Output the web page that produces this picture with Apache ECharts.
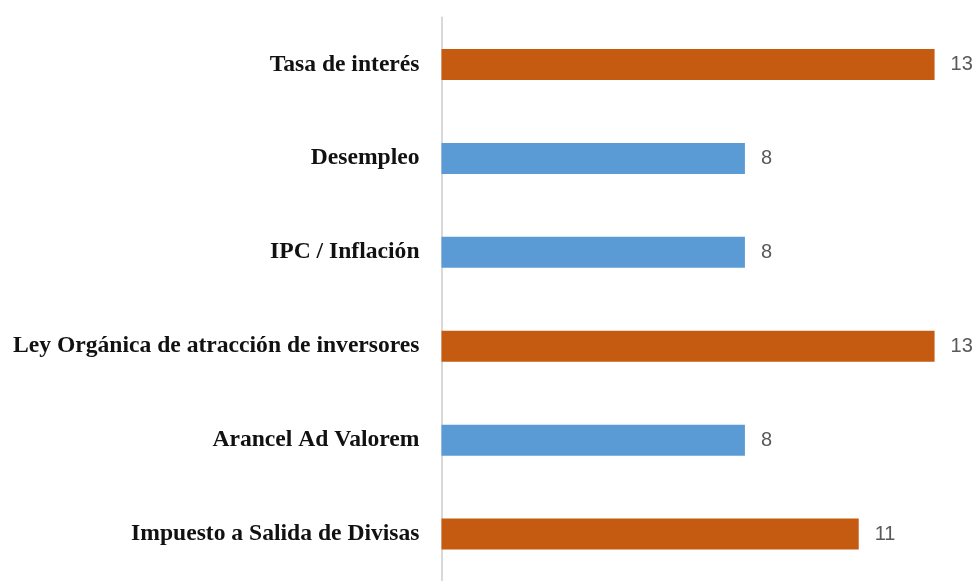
<!DOCTYPE html>
<html>
<head>
<meta charset="utf-8">
<script src="https://cdn.jsdelivr.net/npm/echarts@6/dist/echarts.min.js"></script>
<style>html,body{margin:0;padding:0;background:#fff;}#c{width:976px;height:581px;}</style>
</head>
<body>
<div id="c"></div>
<script>
const categories = ["Tasa de interés","Desempleo","IPC / Inflación","Ley Orgánica de atracción de inversores","Arancel Ad Valorem","Impuesto a Salida de Divisas"];
const values = [13, 8, 8, 13, 8, 11];
const highlight = [true, false, false, true, false, true];
const ORANGE = '#C55A11', BLUE = '#5B9BD5';

const chart = echarts.init(document.getElementById('c'), null, {renderer:'canvas'});
chart.setOption({
  animation:false,
  backgroundColor:'#fff',
  grid:{left:441.5, top:17.5, width:531, height:569, containLabel:false},
  xAxis:{type:'value', min:0, max:14, show:false},
  yAxis:{type:'category', data:categories, inverse:true,
    axisLine:{show:true, lineStyle:{color:'#D9D9D9', width:2}},
    axisTick:{show:false},
    axisLabel:{margin:22, fontFamily:'Liberation Serif', fontWeight:'bold', fontSize:23.6, color:'#111111'},
    splitLine:{show:false}},
  series:[{
    type:'bar', barWidth:31,
    data:values.map((v,i)=>({value:v, itemStyle:{color: highlight[i]?ORANGE:BLUE}})),
    label:{show:true, position:'right', distance:16, fontFamily:'Liberation Sans', fontSize:20, color:'#595959'}
  }]
});
</script>
</body>
</html>
